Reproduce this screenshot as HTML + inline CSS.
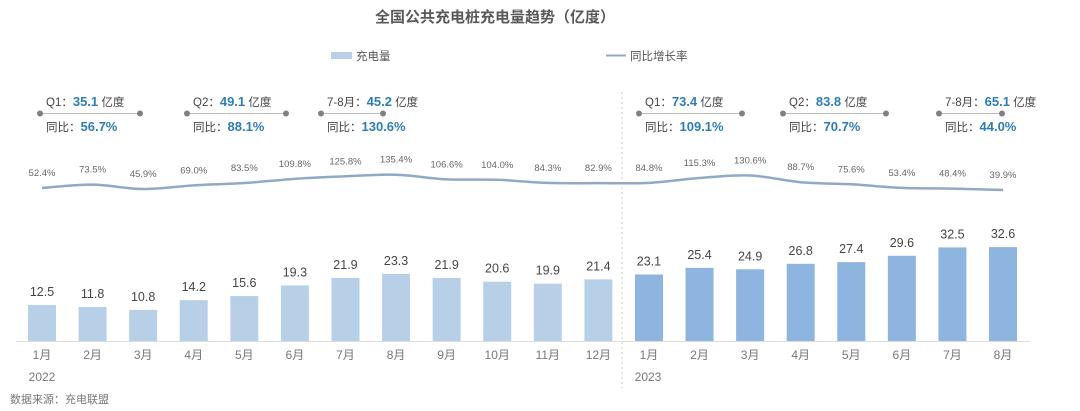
<!DOCTYPE html>
<html><head><meta charset="utf-8">
<style>
body{margin:0;background:#fff;width:1080px;height:411px;overflow:hidden}
svg{display:block;font-family:"Liberation Sans","Noto Sans CJK SC",sans-serif}
</style></head><body>
<svg id="s" width="1080" height="411" viewBox="0 0 1080 411">
<text x="495" y="22" text-anchor="middle" font-size="15" font-weight="bold" fill="#595959">全国公共充电桩充电量趋势（亿度）</text>
<rect x="331" y="52" width="21" height="7" fill="#b8cfe8"/>
<text x="356" y="60" font-size="11.5" fill="#555">充电量</text>
<line x1="606" y1="55.5" x2="626" y2="55.5" stroke="#8fa9c6" stroke-width="2"/>
<text x="630" y="60" font-size="11.5" fill="#555">同比增长率</text>
<line x1="622" y1="92" x2="622" y2="388" stroke="#ccc" stroke-dasharray="2,3"/>
<line x1="16" y1="341.5" x2="1030" y2="341.5" stroke="#ddd"/>
<text x="42" y="381" text-anchor="middle" font-size="12" fill="#777">2022</text>
<text x="648" y="381" text-anchor="middle" font-size="12" fill="#777">2023</text>
<text x="10" y="403" font-size="11" fill="#777">数据来源：充电联盟</text>
<g id="g"></g>
</svg>
<script>
(function(){
var v=[12.5,11.8,10.8,14.2,15.6,19.3,21.9,23.3,21.9,20.6,19.9,21.4,23.1,25.4,24.9,26.8,27.4,29.6,32.5,32.6];
var p=[52.4,73.5,45.9,69.0,83.5,109.8,125.8,135.4,106.6,104.0,84.3,82.9,84.8,115.3,130.6,88.7,75.6,53.4,48.4,39.9];
var h='';var pts=[];
for(var i=0;i<20;i++){
 var x=42+50.58*i;var bh=v[i]*2.88;var ty=341-bh;
 h+='<rect x="'+(x-14)+'" y="'+ty+'" width="28" height="'+bh+'" fill="'+(i<12?'#b8cfe8':'#8eb4e0')+'"/>';
 h+='<text x="'+x+'" y="'+(ty-9)+'" text-anchor="middle" font-size="12.5" fill="#444">'+v[i].toFixed(1)+'</text>';
 h+='<text x="'+x+'" y="359" text-anchor="middle" font-size="12" fill="#777">'+((i%12)+1)+'月</text>';
 var y=190-(p[i]-40)*0.16;pts.push([x,y]);
 h+='<text x="'+x+'" y="'+(y-12)+'" text-anchor="middle" font-size="9.5" fill="#666">'+p[i].toFixed(1)+'%</text>';
}
var d='M'+pts[0][0]+','+pts[0][1];
for(var i=0;i<19;i++){var p0=pts[Math.max(i-1,0)],p1=pts[i],p2=pts[i+1],p3=pts[Math.min(i+2,19)];
 d+=' C'+(p1[0]+(p2[0]-p0[0])/6)+','+(p1[1]+(p2[1]-p0[1])/6)+' '+(p2[0]-(p3[0]-p1[0])/6)+','+(p2[1]-(p3[1]-p1[1])/6)+' '+p2[0]+','+p2[1];}
h+='<path d="'+d+'" fill="none" stroke="#8fa9c6" stroke-width="2.5"/>';
var a=[[40,140,'Q1：','35.1','56.7%'],[187,286,'Q2：','49.1','88.1%'],[321,383,'7-8月：','45.2','130.6%'],
[639,742,'Q1：','73.4','109.1%'],[783,886,'Q2：','83.8','70.7%'],[939,1002,'7-8月：','65.1','44.0%']];
a.forEach(function(q){
 h+='<line x1="'+q[0]+'" y1="113.5" x2="'+q[1]+'" y2="113.5" stroke="#bbb"/>';
 h+='<circle cx="'+q[0]+'" cy="113.5" r="3" fill="#808080"/><circle cx="'+q[1]+'" cy="113.5" r="3" fill="#808080"/>';
 h+='<text x="'+(q[0]+6)+'" y="106" font-size="11.5" fill="#444">'+q[2]+'<tspan font-weight="bold" font-size="13" fill="#2e7db5">'+q[3]+'</tspan> 亿度</text>';
 h+='<text x="'+(q[0]+6)+'" y="131" font-size="11.5" fill="#444">同比：<tspan font-weight="bold" font-size="13" fill="#2e7db5">'+q[4]+'</tspan></text>';
});
document.getElementById('g').innerHTML=h;
})();
</script>
</body></html>
